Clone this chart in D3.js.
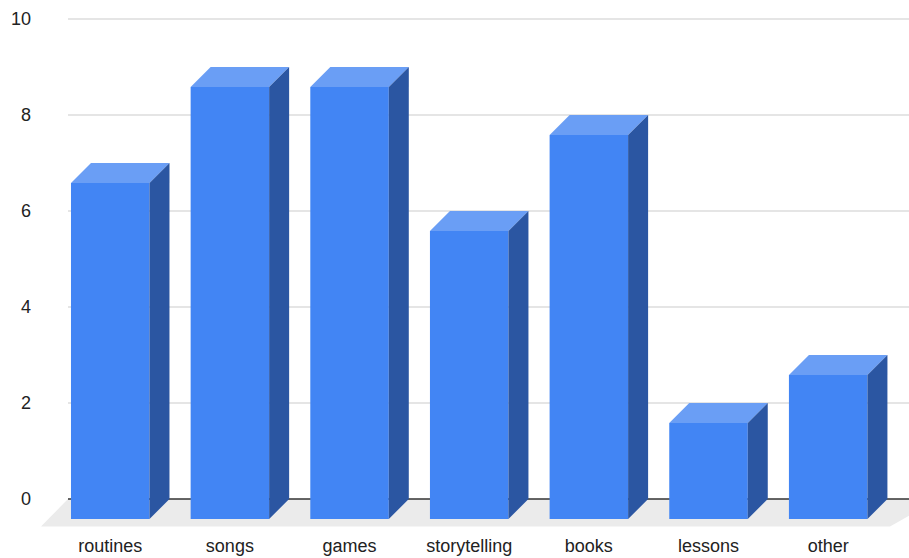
<!DOCTYPE html>
<html>
<head>
<meta charset="utf-8">
<script src="https://cdn.jsdelivr.net/npm/d3@7"></script>
<style>
  html, body { margin: 0; padding: 0; background: #ffffff; }
  svg { display: block; }
  text { font-family: Arial, "Liberation Sans", sans-serif; fill: #222222; }
</style>
</head>
<body>
<svg id="chart" width="909" height="558"></svg>
<script>
// Categories and their counts
const categories = ["routines", "songs", "games", "storytelling", "books", "lessons", "other"];
const values = [7, 9, 9, 6, 8, 2, 3];
const yTicks = [0, 2, 4, 6, 8, 10];

const W = 909, H = 558;
const depth = 20;           // 3D extrusion offset (x right, y up)
const colors = { front: "#4285f4", top: "#6a9ef5", side: "#2b56a2", edge: "#8fb5f7" };

const svg = d3.select("#chart");

// Scales on the front plane of the bars
const x = d3.scaleBand()
  .domain(categories)
  .range([50.4, 888])
  .paddingInner(0.344)
  .paddingOuter(0.172);

const y = d3.scaleLinear().domain([0, 10]).range([519, 39]);

// Back plane (where gridlines live)
const yBack = v => y(v) - depth;
const gridX0 = 68, gridX1 = W;

// Floor
const floorFront = y(0) + 7.5;
svg.append("polygon")
  .attr("points", [
    [gridX0, yBack(0)], [W + 30, yBack(0)],
    [890, floorFront], [41, floorFront]
  ].map(p => p.join(",")).join(" "))
  .attr("fill", "#ebebeb");

// Gridlines
svg.append("g").selectAll("line")
  .data(yTicks.filter(t => t !== 0))
  .join("line")
  .attr("x1", gridX0).attr("x2", gridX1)
  .attr("y1", d => yBack(d)).attr("y2", d => yBack(d))
  .attr("stroke", "#cccccc").attr("stroke-width", 1.2);

// Baseline
svg.append("line")
  .attr("x1", gridX0).attr("x2", gridX1)
  .attr("y1", yBack(0)).attr("y2", yBack(0))
  .attr("stroke", "#333333").attr("stroke-width", 1.5);

// Y-axis labels
svg.append("g").selectAll("text")
  .data(yTicks)
  .join("text")
  .attr("x", 31)
  .attr("y", d => yBack(d))
  .attr("dy", "0.35em")
  .attr("text-anchor", "end")
  .attr("font-size", 18)
  .text(d => d);

// 3D bars
const bw = x.bandwidth();
const bars = svg.append("g").selectAll("g")
  .data(categories.map((c, i) => ({ c, v: values[i] })))
  .join("g");

const pts = arr => arr.map(p => p.join(",")).join(" ");

bars.append("rect")
  .attr("x", d => x(d.c))
  .attr("y", d => y(d.v))
  .attr("width", bw)
  .attr("height", d => y(0) - y(d.v))
  .attr("fill", colors.front);

bars.append("polygon")
  .attr("points", d => {
    const x0 = x(d.c), yt = y(d.v);
    return pts([[x0, yt], [x0 + depth, yt - depth], [x0 + bw + depth, yt - depth], [x0 + bw, yt]]);
  })
  .attr("fill", colors.top);

bars.append("polygon")
  .attr("points", d => {
    const x1 = x(d.c) + bw, yt = y(d.v), yb = y(0);
    return pts([[x1, yt], [x1 + depth, yt - depth], [x1 + depth, yb - depth], [x1, yb]]);
  })
  .attr("fill", colors.side);

// Category labels
svg.append("g").selectAll("text")
  .data(categories)
  .join("text")
  .attr("x", d => x(d) + bw / 2)
  .attr("y", 552)
  .attr("text-anchor", "middle")
  .attr("font-size", 18)
  .text(d => d);
</script>
</body>
</html>
